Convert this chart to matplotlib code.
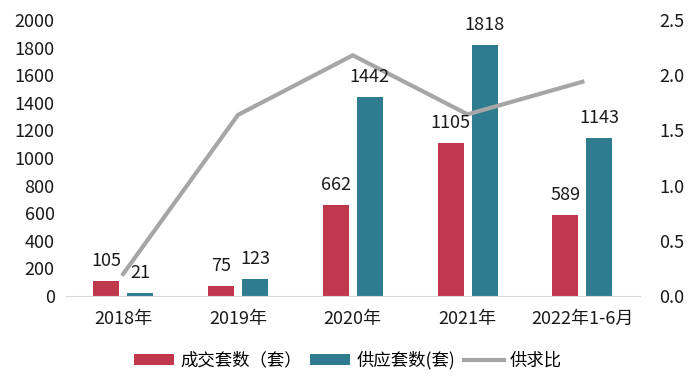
import matplotlib
matplotlib.use("Agg")
import matplotlib.pyplot as plt
import numpy as np

plt.rcParams['font.family'] = ['Noto Sans CJK SC', 'DejaVu Sans']

categories = ["2018年", "2019年", "2020年", "2021年", "2022年1-6月"]
deals = [105, 75, 662, 1105, 589]
supply = [21, 123, 1442, 1818, 1143]
ratio = [0.20, 1.64, 2.18, 1.645, 1.94]

red = "#C0384B"
teal = "#2F7B8F"
grey = "#A6A6A6"
txt = "#1a1a1a"
fs = 13

fig = plt.figure(figsize=(7, 3.91), dpi=100)
ax = fig.add_axes([0.094, 0.243, 0.82, 0.706])
x = np.arange(len(categories))
w = 0.225
off = 0.148
b1 = ax.bar(x - off, deals, w, color=red, label="成交套数（套）")
b2 = ax.bar(x + off, supply, w, color=teal, label="供应套数(套)")
ax.set_ylim(0, 2000)
ax.set_yticks(range(0, 2001, 200))
ax.set_xlim(-0.5, len(categories) - 0.5)
ax.set_xticks(x)
ax.set_xticklabels(categories)
for s in ["top", "right", "left"]:
    ax.spines[s].set_visible(False)
ax.spines["bottom"].set_color("#D9D9D9")
ax.tick_params(axis="both", length=0, labelsize=fs, colors=txt)
ax.tick_params(axis="x", pad=10)
ax.tick_params(axis="y", pad=8)

ax2 = ax.twinx()
ln, = ax2.plot(x, ratio, color=grey, linewidth=3, label="供求比", zorder=2)
ax2.set_ylim(0, 2.5)
ax2.set_yticks(np.arange(0, 2.51, 0.5))
ax2.set_yticklabels([f"{v:.1f}" for v in np.arange(0, 2.51, 0.5)])
for s in ["top", "right", "left", "bottom"]:
    ax2.spines[s].set_visible(False)
ax2.tick_params(axis="y", length=0, labelsize=fs, colors=txt, pad=14)

# value labels drawn above the line, positioned in bar-axis data coordinates
for xi, v in zip(x, deals):
    ax2.annotate(str(v), (xi - off, v), xycoords=ax.transData, xytext=(0, 8),
                 textcoords="offset points", ha="center", va="bottom",
                 fontsize=fs, color=txt, zorder=5)
for xi, v in zip(x, supply):
    ax2.annotate(str(v), (xi + off, v), xycoords=ax.transData, xytext=(0, 8),
                 textcoords="offset points", ha="center", va="bottom",
                 fontsize=fs, color=txt, zorder=5)

fig.legend([b1, b2, ln], ["成交套数（套）", "供应套数(套)", "供求比"], loc="center",
           bbox_to_anchor=(0.497, 0.078), ncol=3, frameon=False, fontsize=12.5,
           handlelength=2.3, handleheight=0.6, columnspacing=0.5, handletextpad=0.35)
fig.savefig("out.png", dpi=100)
